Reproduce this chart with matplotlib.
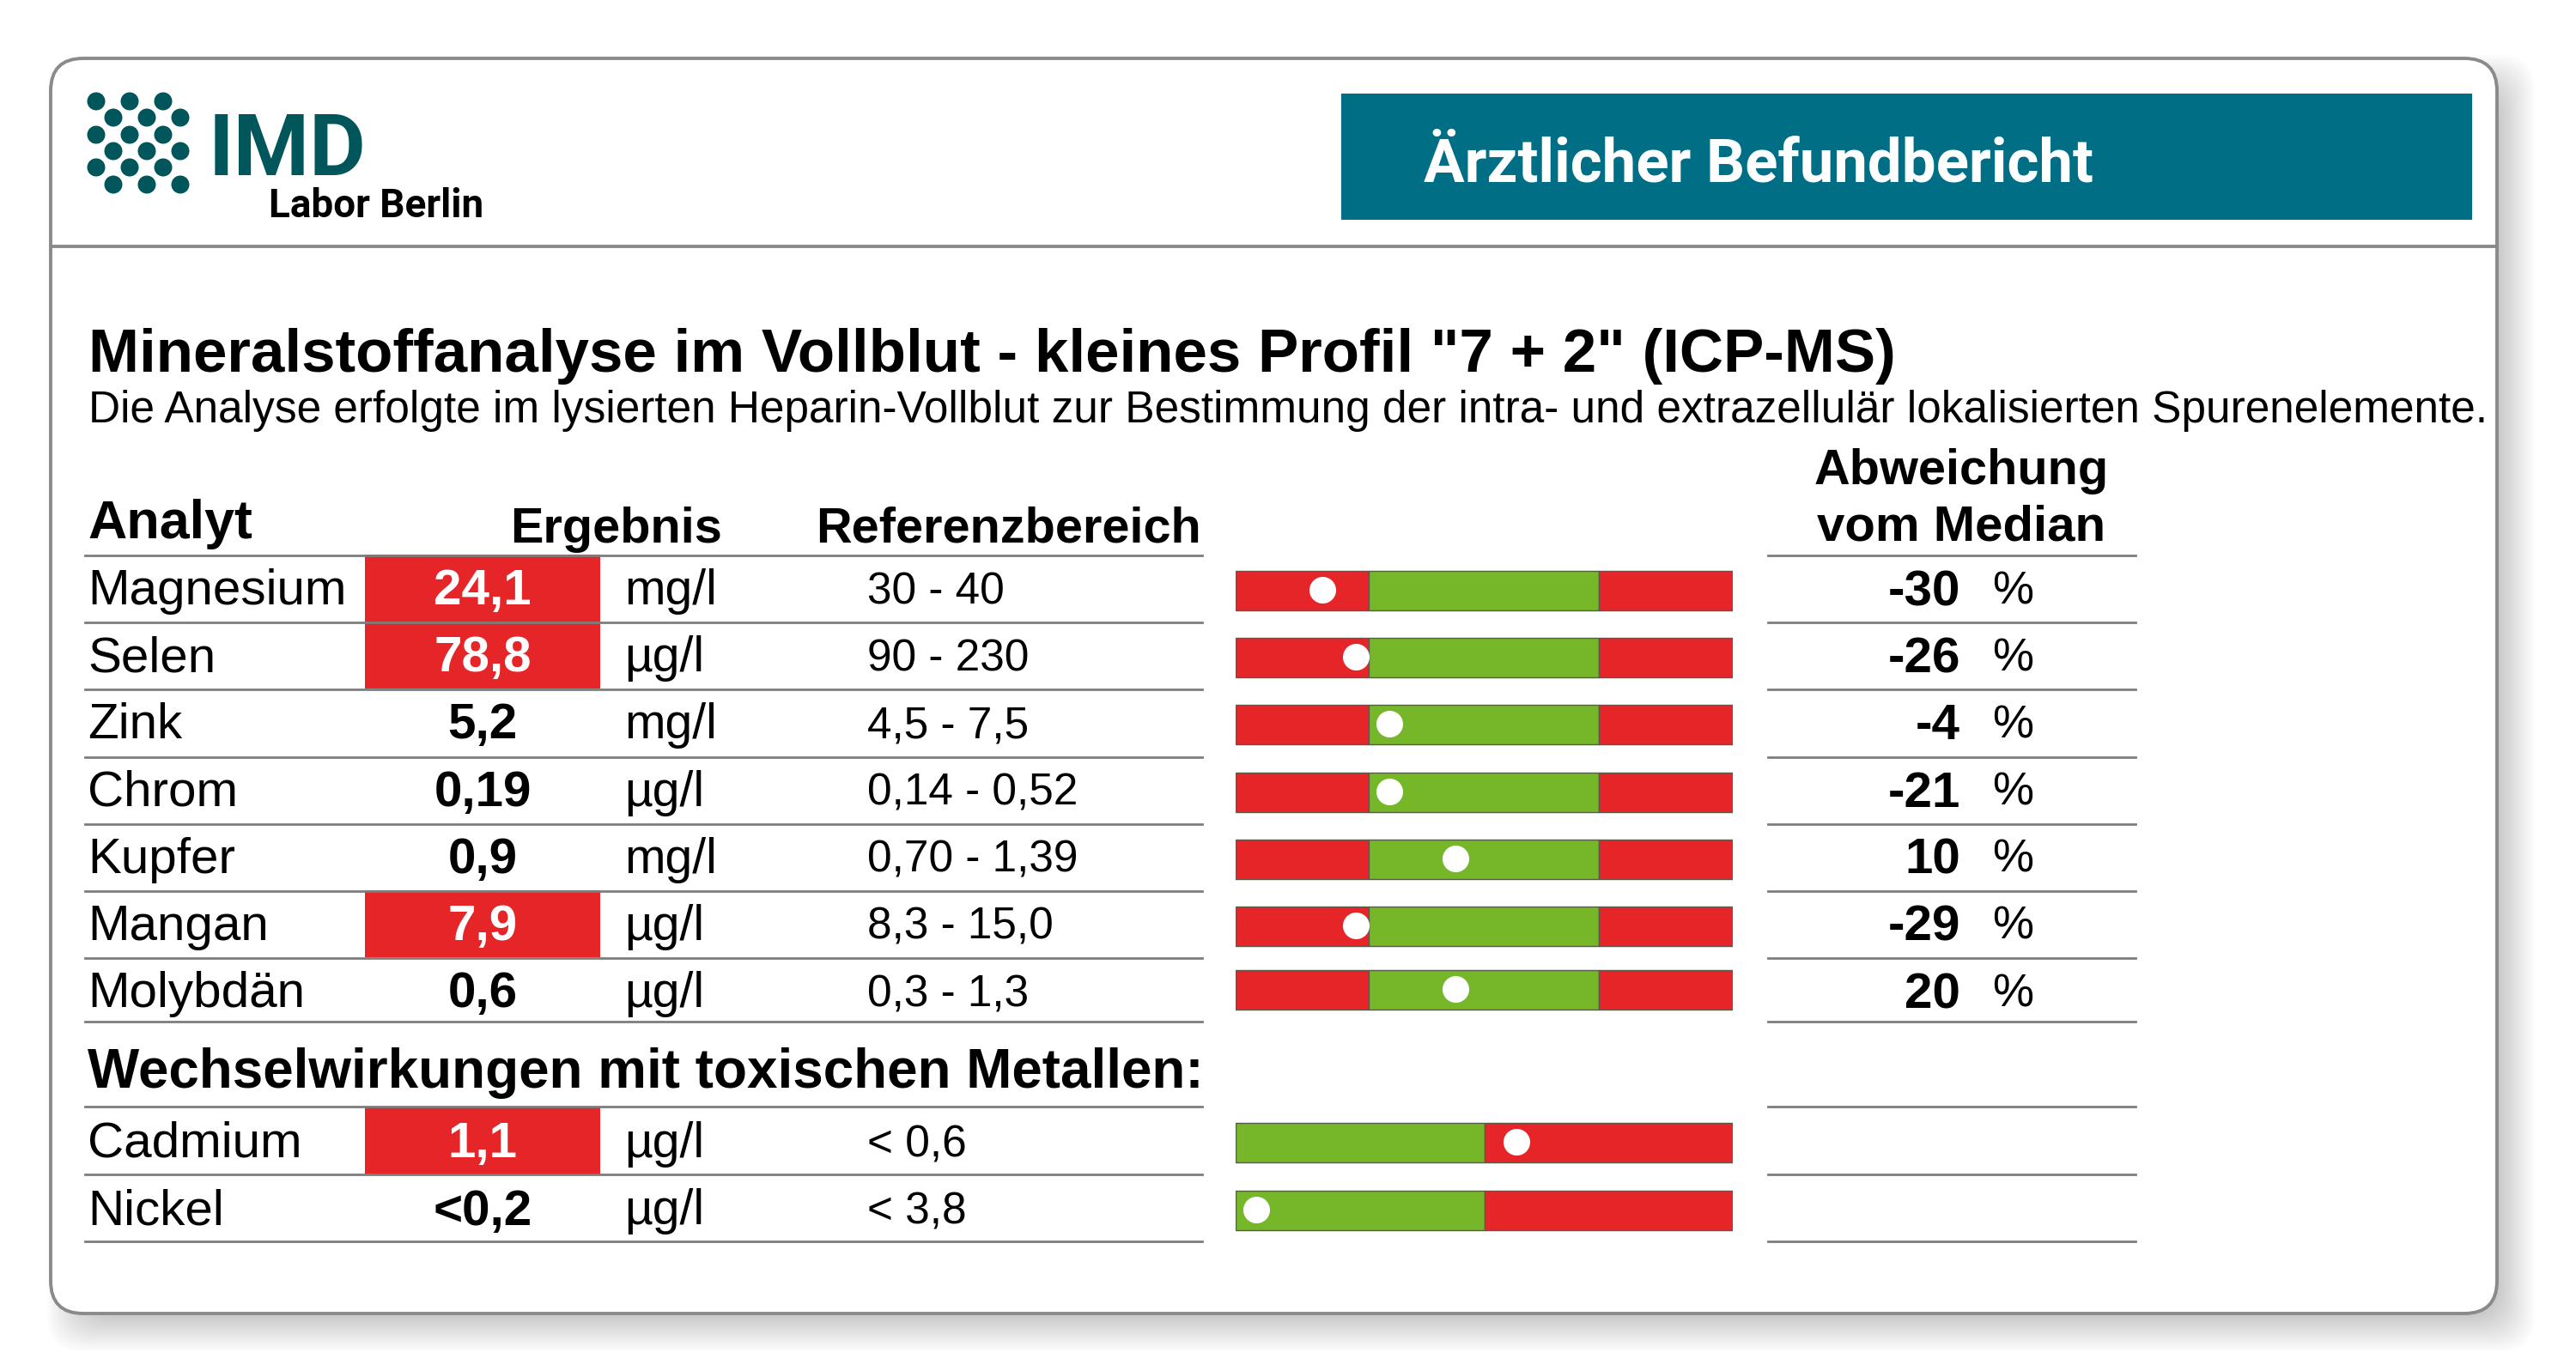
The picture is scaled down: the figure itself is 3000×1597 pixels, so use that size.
import matplotlib
matplotlib.use("Agg")
import matplotlib.pyplot as plt
from matplotlib.patches import FancyBboxPatch, Rectangle, Circle

analytes = ["Magnesium", "Selen", "Zink", "Chrom", "Kupfer", "Mangan", "Molybdän"]
results = ["24,1", "78,8", "5,2", "0,19", "0,9", "7,9", "0,6"]
units = ["mg/l", "µg/l", "mg/l", "µg/l", "mg/l", "µg/l", "µg/l"]
ranges = ["30 - 40", "90 - 230", "4,5 - 7,5", "0,14 - 0,52", "0,70 - 1,39", "8,3 - 15,0", "0,3 - 1,3"]
flagged = [True, True, False, False, False, True, False]
deviation = [-30, -26, -4, -21, 10, -29, 20]
marker_pos = [17.4, 24.2, 30.9, 30.9, 44.2, 24.2, 44.2]  # percent of bar width

toxic = ["Cadmium", "Nickel"]
toxic_results = ["1,1", "<0,2"]
toxic_units = ["µg/l", "µg/l"]
toxic_ranges = ["< 0,6", "< 3,8"]
toxic_flagged = [True, False]
toxic_marker_pos = [56.4, 4.2]

band_edges = [0, 26.8, 73.0, 100]
toxic_edges = [0, 50, 100]

RED = "#E52528"
GREEN = "#76B72A"
TEAL = "#006F85"
LOGO = "#00565A"
LINE = "#7d7d7d"

rows_y = [685 + 78.2 * i for i in range(7)]
bar_y = [688, 766, 844, 923, 1001, 1079, 1153]
toxic_y = [1329, 1407.5]
toxic_bar_y = [1331, 1410]
ARIAL = "Liberation Sans"

fig = plt.figure(figsize=(30, 15.97), dpi=100)
ax = fig.add_axes([0, 0, 1, 1])
ax.set_xlim(0, 3000)
ax.set_ylim(1597, 0)
ax.axis("off")


def put(x, y, s, size, weight="normal", color="black", ha="left", family=ARIAL, width=None):
    t = ax.text(x, y, s, fontsize=size, fontweight=weight, color=color, ha=ha, va="baseline", family=family)
    if width is not None:
        w = t.get_window_extent(fig.canvas.get_renderer()).width
        t.set_fontsize(size * width / w)
    return t


# frame with soft shadow, thrown to the lower right
for i in range(18):
    pad = 24 - i * 2.4
    ax.add_patch(FancyBboxPatch((59 + 20, 68 + 20), 2849, 1462, boxstyle=f"round,pad={pad},rounding_size=40",
                                fc="black", ec="none", alpha=0.012))
ax.add_patch(FancyBboxPatch((59, 68), 2849, 1462, boxstyle="round,pad=0,rounding_size=38",
                            fc="white", ec="#8a8a8a", lw=2.8))
ax.plot([59, 2908], [287, 287], color="#8a8a8a", lw=2.8)

# logo
for row, y in enumerate([118, 137, 157, 176, 195, 215]):
    xs = [112, 151, 190] if row % 2 == 0 else [132, 171, 210]
    for x in xs:
        ax.add_patch(Circle((x, y), 10.5, fc=LOGO, ec="none"))
put(243, 204, "IMD", 75, "bold", LOGO, family="Roboto", width=184)
put(313, 253, "Labor Berlin", 30, "bold", "black", family="Roboto", width=250)

# header box
ax.add_patch(Rectangle((1562, 109), 1317, 147, fc=TEAL, ec="none"))
put(1658, 211, "Ärztlicher Befundbericht", 45, "bold", "white", family="Roboto", width=781)

# title
put(103, 433, 'Mineralstoffanalyse im Vollblut - kleines Profil "7 + 2" (ICP-MS)', 44, "bold", width=2105)
put(103, 492, "Die Analyse erfolgte im lysierten Heparin-Vollblut zur Bestimmung der intra- und extrazellulär "
    "lokalisierten Spurenelemente.", 36, width=2800)

# column headers
put(102, 627, "Analyt", 42, "bold", width=192)
put(841, 632, "Ergebnis", 40, "bold", ha="right", width=246)
put(950, 632, "Referenzbereich", 40, "bold", width=447)
put(2284, 564, "Abweichung", 40, "bold", ha="center", width=343)
put(2284, 630, "vom Median", 40, "bold", ha="center", width=336)
put(102, 1267, "Wechselwirkungen mit toxischen Metallen:", 42, "bold", width=1302)


def table_row(y, name, result, unit, ref, flag):
    if flag:
        ax.add_patch(Rectangle((425, y - 39), 274, 78, fc=RED, ec="none"))
    put(102, y + 19, name, 42)
    put(562, y + 19, result, 42, "bold", "white" if flag else "black", ha="center")
    put(727, y + 19, unit, 41)
    put(1010, y + 18, ref, 37)


for i in range(len(analytes)):
    table_row(rows_y[i], analytes[i], results[i], units[i], ranges[i], flagged[i])
    put(2283, rows_y[i] + 20, str(deviation[i]), 42, "bold", ha="right")
    put(2320, rows_y[i] + 18, "%", 39)
for i in range(len(toxic)):
    table_row(toxic_y[i], toxic[i], toxic_results[i], toxic_units[i], toxic_ranges[i], toxic_flagged[i])

# rules between the rows
left_rules = [647 + 78.2 * i for i in range(7)] + [1190, 1289, 1368, 1446]
right_rules = [647 + 78.2 * i for i in range(7)] + [1190, 1289, 1368, 1446]
for y in left_rules:
    ax.plot([99, 1400], [y, y], color=LINE, lw=2)
for y in right_rules:
    ax.plot([2059, 2487], [y, y], color=LINE, lw=2)

# deviation bars, x in percent of bar width
bar_ax = fig.add_axes([1439 / 3000, 0, (2018 - 1439) / 3000, 1])
bar_ax.set_xlim(0, 100)
bar_ax.set_ylim(1597, 0)
bar_ax.axis("off")
bar_ax.patch.set_alpha(0)


def draw_bar(y, edges, colors, pos):
    for j, col in enumerate(colors):
        bar_ax.barh(y, edges[j + 1] - edges[j], left=edges[j], height=46, color=col,
                    edgecolor="#5a5a4a", linewidth=1.0)
    bar_ax.scatter([pos], [y - 1], s=500, color="white", zorder=3, linewidths=0)


for i in range(len(analytes)):
    draw_bar(bar_y[i], band_edges, [RED, GREEN, RED], marker_pos[i])
for i in range(len(toxic)):
    draw_bar(toxic_bar_y[i], toxic_edges, [GREEN, RED], toxic_marker_pos[i])

fig.savefig("out.png", dpi=100)
